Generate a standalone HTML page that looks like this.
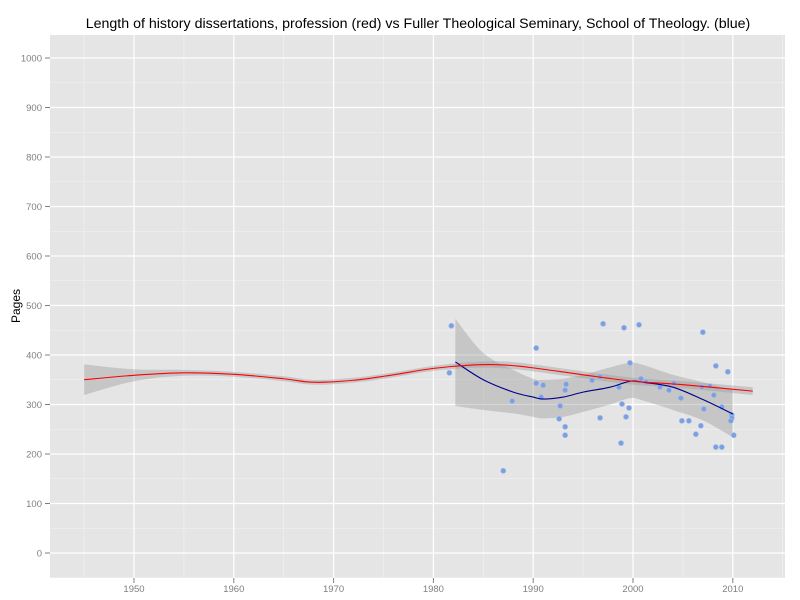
<!DOCTYPE html>
<html><head><meta charset="utf-8"><style>
body{margin:0;background:#fff;}
svg{display:block;font-family:"Liberation Sans",sans-serif;}
</style></head><body>
<svg id="chart" width="800" height="600">
<text x="418" y="28" text-anchor="middle" font-size="14.2" fill="#000">Length of history dissertations, profession (red) vs Fuller Theological Seminary, School of Theology. (blue)</text>
<text transform="translate(20,306) rotate(-90)" text-anchor="middle" font-size="12" fill="#000">Pages</text>
<g id="g"></g>
</svg>
<script>
const xTicks=[1950,1960,1970,1980,1990,2000,2010];
const yTicks=[0,100,200,300,400,500,600,700,800,900,1000];
const redYears=[1945,1950,1955,1960,1965,1968,1972,1976,1980,1984,1987,1990,1995,2000,2005,2012];
const redVals=[350,359,364,361,352,345,349,360,373,380,380,374,360,347,340,327];
const redBand=[31,12,6,5,5,5,5,5,5,6,7,7,7,7,7,8];
const blueYears=[1982.2,1985,1988,1990,1991,1993,1995,1997.7,1999.7,2001,2004,2007,2010];
const blueVals=[386,350,325,315,311,315,325,335,347,345,335,310,281];
const blueHi=[473,404,370,352,350,352,360,375,384,380,360,345,329];
const blueLo=[297,289,282,275,272,275,285,300,313,308,289,268,234];
const ptYears=[1981.8,1981.6,1990.3,1987.0,1987.9,1990.3,1991.0,1990.8,1993.3,1993.2,1992.7,1992.6,1993.2,1993.2,1997.0,1995.9,1996.7,1996.7,1999.1,2000.6,2007.0,1998.6,1999.7,2000.8,2001.3,2002.7,2004.1,2004.8,2003.6,1998.9,1999.6,1999.3,1998.8,2004.9,2005.6,2006.8,2006.3,2008.3,2009.5,2006.9,2007.7,2008.1,2007.1,2008.9,2009.9,2009.9,2009.8,2010.1,2008.3,2008.9];
const ptPages=[459,364,414,166,307,343,339,315,341,329,297,271,255,238,463,349,356,273,455,461,446,335,384,352,345,335,343,313,329,301,293,275,222,267,267,257,240,378,366,335,337,319,291,295,279,273,267,238,214,214];

const L=50,R=785,T=35,B=578;
const sx=v=>134+(v-1950)*9.98;
const sy=v=>553-v*0.495;
const g=document.getElementById('g');
const NS='http://www.w3.org/2000/svg';
function mk(t,a){const e=document.createElementNS(NS,t);for(const k in a)e.setAttribute(k,a[k]);g.appendChild(e);return e;}
let e=mk('rect',{x:L,y:T,width:R-L,height:B-T,fill:'#e5e5e5'});


for(let i=0;i<yTicks.length;i++){const v=yTicks[i]+50;if(v<1050){const l=mk('line',{x1:L,x2:R,y1:sy(v),y2:sy(v),stroke:'#f2f2f2','stroke-width':0.6});

}}
const l0=mk('line',{x1:L,x2:R,y1:sy(-50),y2:sy(-50),stroke:'#f2f2f2','stroke-width':0.6});


for(const v of [1945].concat(xTicks.map(t=>t+5))){const l=mk('line',{x1:sx(v),x2:sx(v),y1:T,y2:B,stroke:'#f2f2f2','stroke-width':0.6});

}
for(const v of yTicks){const l=mk('line',{x1:L,x2:R,y1:sy(v),y2:sy(v),stroke:'#fff','stroke-width':1.2});


const tk=mk('line',{x1:L-5,x2:L,y1:sy(v),y2:sy(v),stroke:'#7f7f7f'});


const tx=mk('text',{x:L-8,y:sy(v)+3.5,'text-anchor':'end','font-size':9.5,fill:'#7f7f7f'});tx.textContent=v;

}
for(const v of xTicks){const l=mk('line',{x1:sx(v),x2:sx(v),y1:T,y2:B,stroke:'#fff','stroke-width':1.2});


const tk=mk('line',{x1:sx(v),x2:sx(v),y1:B,y2:B+5,stroke:'#7f7f7f'});


const tx=mk('text',{x:sx(v),y:B+14,'text-anchor':'middle','font-size':9.5,fill:'#7f7f7f'});tx.textContent=v;

}
function smooth(xs,ys){let d=`M${sx(xs[0])},${sy(ys[0])}`;
for(let i=0;i<xs.length-1;i++){const x0=sx(xs[Math.max(0,i-1)]),y0=sy(ys[Math.max(0,i-1)]),x1=sx(xs[i]),y1=sy(ys[i]),x2=sx(xs[i+1]),y2=sy(ys[i+1]),x3=sx(xs[Math.min(xs.length-1,i+2)]),y3=sy(ys[Math.min(xs.length-1,i+2)]);
d+=` C${x1+(x2-x0)/6},${y1+(y2-y0)/6} ${x2-(x3-x1)/6},${y2-(y3-y1)/6} ${x2},${y2}`;}return d;}
function band(xs,hi,lo){const up=smooth(xs,hi);const rx=xs.slice().reverse(),rl=lo.slice().reverse();return up+' L'+smooth(rx,rl).slice(1)+' Z';}
const rb=mk('path',{d:band(redYears,redVals.map((v,i)=>v+redBand[i]),redVals.map((v,i)=>v-redBand[i])),fill:'#999','fill-opacity':0.4});


const bb=mk('path',{d:band(blueYears,blueHi,blueLo),fill:'#999','fill-opacity':0.4});


for(let i=0;i<ptYears.length;i++){const c=mk('circle',{cx:sx(ptYears[i]),cy:sy(ptPages[i]),r:2.6,fill:'#7b9fe0',stroke:'#a8bfea','stroke-width':0.6});

}
const bl=mk('path',{d:smooth(blueYears,blueVals),fill:'none',stroke:'#00008b','stroke-width':1.1});


const rl=mk('path',{d:smooth(redYears,redVals),fill:'none',stroke:'#ff0000','stroke-width':1.1});


</script>
</body></html>
